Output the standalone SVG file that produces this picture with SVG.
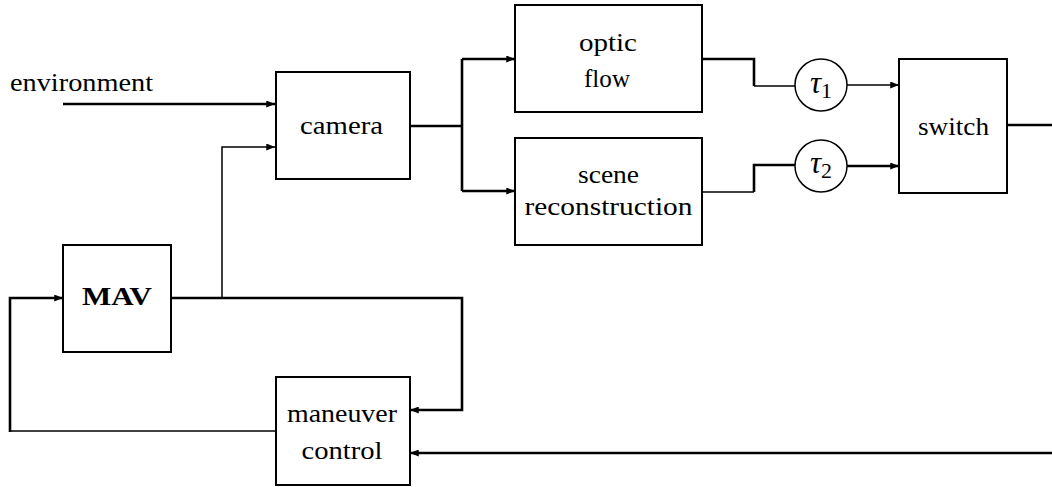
<svg xmlns="http://www.w3.org/2000/svg" width="1052" height="487" viewBox="0 0 1052 487">
  <style>
    .box { fill: #fff; stroke: #000; stroke-width: 2; }
    .ring { fill: #fff; stroke: #000; stroke-width: 1.5; }
    .thick { fill: none; stroke: #000; stroke-width: 2.6; }
    .thin { fill: none; stroke: #000; stroke-width: 1.5; }
  </style>
  <defs>
    <marker id="arr" viewBox="0 0 10 8" refX="10" refY="4" markerWidth="9" markerHeight="7" markerUnits="userSpaceOnUse" orient="auto">
      <path d="M0,0 L10,4 L0,8 z" fill="#000"/>
    </marker>
  </defs>

  <!-- connectors -->
  <g id="connectors">
    <path class="thick" d="M63,104 H275" marker-end="url(#arr)"/>
    <path class="thin" d="M222,298 V147 H275" marker-end="url(#arr)"/>
    <path class="thick" d="M410,126 H462"/>
    <path class="thick" d="M462,59 V191"/>
    <path class="thick" d="M462,59 H515" marker-end="url(#arr)"/>
    <path class="thick" d="M462,191 H515" marker-end="url(#arr)"/>
    <path class="thick" d="M702,59 H754 V86"/>
    <path class="thin" d="M754,86 H795"/>
    <path class="thin" d="M702,192 H754"/>
    <path class="thick" d="M754,192 V165 H795"/>
    <path class="thin" d="M847,85 H899" marker-end="url(#arr)"/>
    <path class="thick" d="M847,166 H899" marker-end="url(#arr)"/>
    <path class="thick" d="M1007,125 H1052"/>
    <path class="thick" d="M171,298 H462 V410 H410" marker-end="url(#arr)"/>
    <path class="thin" d="M275,431 H10"/>
    <path class="thick" d="M10,432 V298 H63" marker-end="url(#arr)"/>
    <path class="thick" d="M1052,453 H410" marker-end="url(#arr)"/>
  </g>

  <g font-family="Liberation Serif, DejaVu Serif, serif" font-size="25" fill="#000">
    <text x="10" y="91" textLength="143" lengthAdjust="spacingAndGlyphs">environment</text>

    <g id="camera" text-anchor="middle">
      <rect class="box" x="276" y="72" width="134" height="107"/>
      <text x="341.5" y="134" textLength="83" lengthAdjust="spacingAndGlyphs">camera</text>
    </g>

    <g id="optic-flow" text-anchor="middle">
      <rect class="box" x="515" y="5" width="187" height="107"/>
      <text x="608" y="51" textLength="58" lengthAdjust="spacingAndGlyphs">optic</text>
      <text x="607" y="87" textLength="46" lengthAdjust="spacingAndGlyphs">flow</text>
    </g>

    <g id="scene-reconstruction" text-anchor="middle">
      <rect class="box" x="515" y="138" width="187" height="107"/>
      <text x="608.5" y="183" textLength="61" lengthAdjust="spacingAndGlyphs">scene</text>
      <text x="608.5" y="215" textLength="168" lengthAdjust="spacingAndGlyphs">reconstruction</text>
    </g>

    <g id="tau1" text-anchor="middle">
      <circle class="ring" cx="821" cy="85" r="26"/>
      <text x="821" y="93" font-size="31"><tspan font-style="italic">τ</tspan><tspan font-size="22" dy="5">1</tspan></text>
    </g>

    <g id="tau2" text-anchor="middle">
      <circle class="ring" cx="821" cy="166" r="26"/>
      <text x="821" y="173" font-size="31"><tspan font-style="italic">τ</tspan><tspan font-size="22" dy="5">2</tspan></text>
    </g>

    <g id="switch" text-anchor="middle">
      <rect class="box" x="899" y="59" width="108" height="134"/>
      <text x="953.5" y="135" textLength="71" lengthAdjust="spacingAndGlyphs">switch</text>
    </g>

    <g id="mav" text-anchor="middle">
      <rect class="box" x="63" y="245" width="108" height="107"/>
      <text x="117" y="305" font-weight="bold" textLength="70" lengthAdjust="spacingAndGlyphs">MAV</text>
    </g>

    <g id="maneuver-control" text-anchor="middle">
      <rect class="box" x="276" y="377" width="134" height="108"/>
      <text x="342" y="422" textLength="110" lengthAdjust="spacingAndGlyphs">maneuver</text>
      <text x="342" y="459" textLength="81" lengthAdjust="spacingAndGlyphs">control</text>
    </g>
  </g>
</svg>
